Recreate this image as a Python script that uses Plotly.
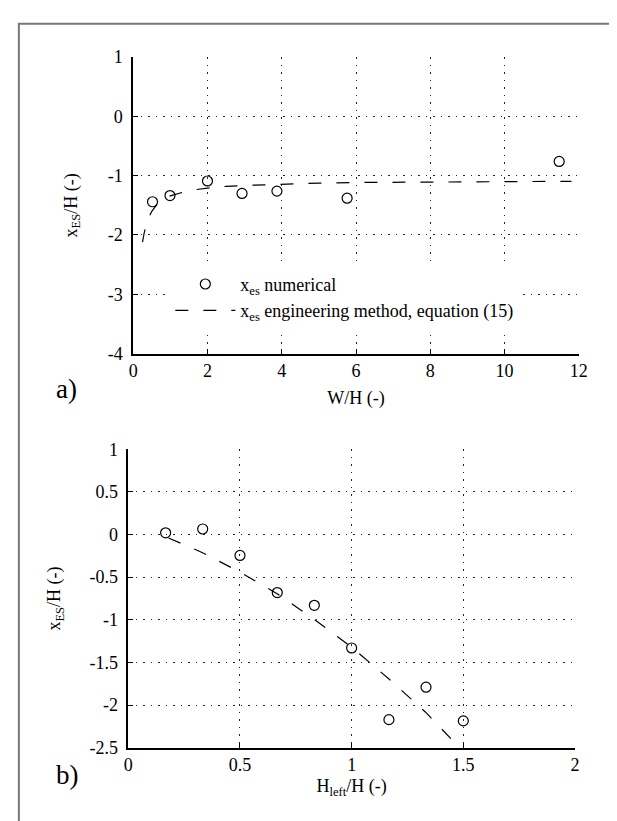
import plotly.graph_objects as go

W, H = 617, 821
def px(x): return x / W
def py(y): return 1 - y / H

# ---- panel a data ----
wh_num = [0.52, 0.99, 2.0, 2.93, 3.87, 5.76, 11.47]
xes_num_a = [-1.44, -1.335, -1.09, -1.30, -1.26, -1.38, -0.76]
wh_eng = [0.25, 0.3, 0.4, 0.5, 0.65, 0.8, 1.0, 1.25, 1.5, 2.0, 2.5, 3.0, 4.0, 5.0, 6.0, 8.0, 10.0, 11.8]
xes_eng_a = [-2.12, -1.95, -1.73, -1.60, -1.48, -1.41, -1.34, -1.29, -1.25, -1.21, -1.18, -1.165,
             -1.14, -1.125, -1.115, -1.105, -1.10, -1.095]
xa_ticks = [0, 2, 4, 6, 8, 10, 12]
ya_ticks = [1, 0, -1, -2, -3, -4]

# ---- panel b data ----
hl_num = [0.167, 0.333, 0.5, 0.667, 0.833, 1.0, 1.167, 1.333, 1.5]
xes_num_b = [0.02, 0.065, -0.245, -0.68, -0.83, -1.33, -2.17, -1.79, -2.185]
hl_eng = [0.18, 0.33, 0.5, 0.67, 0.83, 1.0, 1.17, 1.33, 1.48]
xes_eng_b = [-0.04, -0.21, -0.44, -0.70, -0.99, -1.32, -1.70, -2.08, -2.49]
xb_ticks = [0, 0.5, 1, 1.5, 2]
yb_ticks = [1, 0.5, 0, -0.5, -1, -1.5, -2, -2.5]

FONT = "Liberation Serif"
DASH = "13px,15px"

def lbl(v):
    return "%g" % v

fig = go.Figure()
fig.add_trace(go.Scatter(x=wh_num, y=xes_num_a, mode="markers",
                         marker=dict(symbol="circle-open", size=10, color="black", line=dict(width=1.2)),
                         name="x<sub>es</sub> numerical", xaxis="x", yaxis="y"))
fig.add_trace(go.Scatter(x=wh_eng, y=xes_eng_a, mode="lines",
                         line=dict(color="black", width=1.2, dash=DASH),
                         name="x<sub>es</sub> engineering method, equation (15)", xaxis="x", yaxis="y"))
fig.add_trace(go.Scatter(x=hl_num, y=xes_num_b, mode="markers",
                         marker=dict(symbol="circle-open", size=10, color="black", line=dict(width=1.2)),
                         showlegend=False, xaxis="x2", yaxis="y2"))
fig.add_trace(go.Scatter(x=hl_eng, y=xes_eng_b, mode="lines",
                         line=dict(color="black", width=1.2, dash=DASH),
                         showlegend=False, xaxis="x2", yaxis="y2"))

axcommon = dict(showline=True, linecolor="black", linewidth=1.5, ticks="inside", ticklen=5,
                tickcolor="black", showgrid=True, gridcolor="#222", gridwidth=1, griddash="1.5px,6px",
                zeroline=False, tickfont=dict(family=FONT, size=18, color="black"),
                title_font=dict(family=FONT, size=18, color="black"))

fig.update_layout(
    width=W, height=H, margin=dict(l=0, r=0, t=0, b=0),
    paper_bgcolor="white", plot_bgcolor="white",
    font=dict(family=FONT, size=18, color="black"),
    showlegend=True,
    legend=dict(x=px(161), y=py(254), xanchor="left", yanchor="top", bgcolor="white",
                borderwidth=0, itemwidth=60, entrywidthmode="pixels", entrywidth=320,
                font=dict(family=FONT, size=18)),
    xaxis=dict(domain=[px(123), px(579)], anchor="y", range=[0, 12], tickvals=xa_ticks,
               ticktext=[lbl(v) for v in xa_ticks], title=dict(text="W/H (-)", standoff=11), **axcommon),
    yaxis=dict(domain=[py(344), py(40)], anchor="x", range=[-4, 1], tickvals=ya_ticks,
               ticktext=[lbl(v) for v in ya_ticks], title=dict(text="x<sub>ES</sub>/H (-)", standoff=26),
               ticklabelstandoff=5, **axcommon),
    xaxis2=dict(domain=[px(118), px(575)], anchor="y2", range=[0, 2], tickvals=xb_ticks,
                ticktext=[lbl(v) for v in xb_ticks], title=dict(text="H<sub>left</sub>/H (-)", standoff=5), **axcommon),
    yaxis2=dict(domain=[py(748), py(442)], anchor="x2", range=[-2.5, 1], tickvals=yb_ticks,
                ticktext=[lbl(v) for v in yb_ticks], title=dict(text="x<sub>ES</sub>/H (-)", standoff=24),
                ticklabelstandoff=5, **axcommon),
    shapes=[dict(type="rect", xref="paper", yref="paper", x0=px(6), x1=px(612), y0=py(6), y1=py(840),
                 line=dict(color="#777", width=2), fillcolor="rgba(0,0,0,0)", layer="below")],
    annotations=[
        dict(text="a)", x=px(42), y=py(380), xref="paper", yref="paper", xanchor="left", yanchor="middle",
             showarrow=False, font=dict(family=FONT, size=27, color="black")),
        dict(text="b)", x=px(42), y=py(776), xref="paper", yref="paper", xanchor="left", yanchor="middle",
             showarrow=False, font=dict(family=FONT, size=27, color="black")),
    ],
)

fig.write_html("out.html")
